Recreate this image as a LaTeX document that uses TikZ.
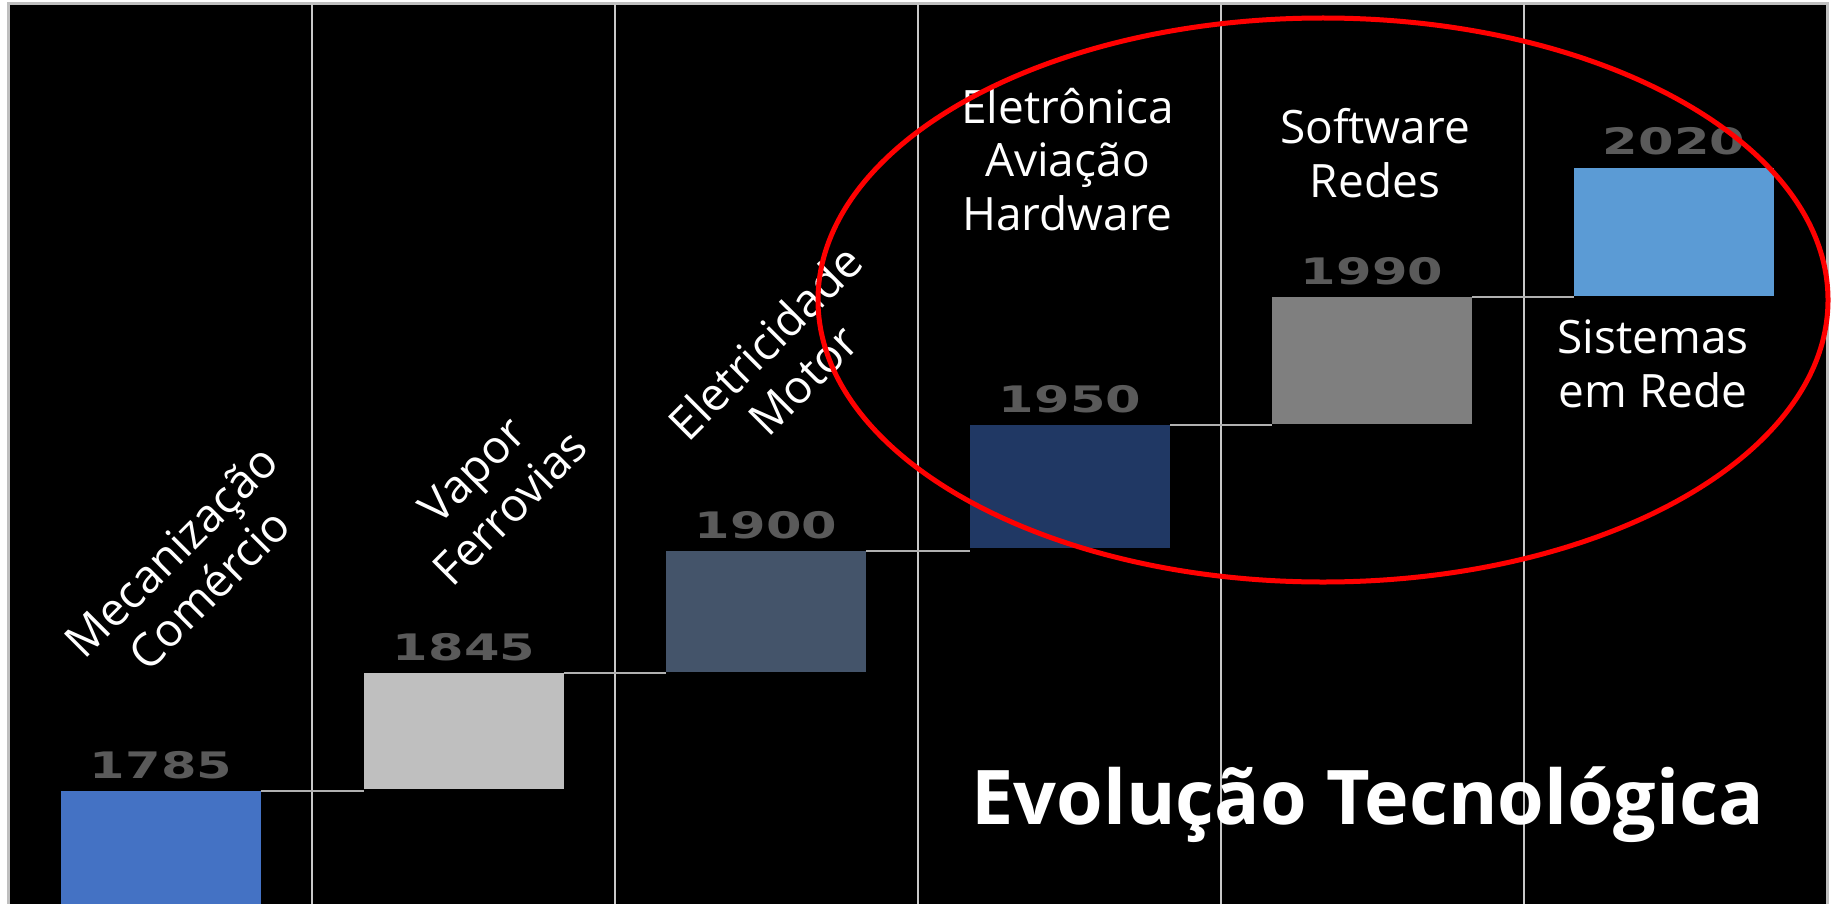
\documentclass[tikz,border=0pt]{standalone}
\usepackage{fontspec}
\setmainfont{Open Sans}
\newfontfamily\yearfont{DejaVu Sans}
\usetikzlibrary{shapes.geometric}
\definecolor{framegray}{HTML}{BFBFBF}
\definecolor{gridgray}{HTML}{C8C8C8}
\definecolor{conngray}{HTML}{B0B0B0}
\definecolor{yeargray}{HTML}{5A5A5A}
\definecolor{barA}{HTML}{4472C4}
\definecolor{barB}{HTML}{BFBFBF}
\definecolor{barC}{HTML}{44546A}
\definecolor{barD}{HTML}{203864}
\definecolor{barE}{HTML}{7F7F7F}
\definecolor{barF}{HTML}{5B9BD5}
\definecolor{hlred}{HTML}{FF0000}
\tikzset{
  barbox/.style={rectangle, inner sep=0pt, outer sep=0pt, minimum width=100pt, anchor=north west},
  yearlbl/.style={inner sep=0pt, anchor=base, text=yeargray, xscale=1.4,
    font=\yearfont\bfseries\fontsize{18.25pt}{22pt}\selectfont},
  lbl/.style={inner sep=0pt, text=white, align=center,
    font=\fontsize{23pt}{26.75pt}\selectfont},
  titlelbl/.style={inner sep=0pt, text=white, anchor=base west,
    font=\bfseries\fontsize{37.7pt}{44pt}\selectfont},
  gridline/.style={draw=gridgray, line width=1.2pt},
  conn/.style={draw=conngray, line width=0.8pt},
  highlight/.style={ellipse, draw=hlred, line width=2.5pt, inner sep=0pt,
    minimum width=505pt, minimum height=282pt}
}
\begin{document}
\begin{tikzpicture}[x=0.5pt, y=-0.5pt]
\useasboundingbox (0,0) rectangle (1841,904);
\fill[white] (0,0) rectangle (1841,904);
\fill[black] (8,4) rectangle (1827,904);
\draw[framegray, line width=1.5pt] (8,904) -- (8,4) -- (1827,4) -- (1827,904);
\foreach \gx in {312,615,918,1221,1524} \draw[gridline] (\gx,4) -- (\gx,904);
% bars
\node[barbox, fill=barA, minimum height=56.5pt] (b1) at (61,791) {};
\node[barbox, fill=barB, minimum height=58pt] (b2) at (364,673) {};
\node[barbox, fill=barC, minimum height=60.5pt] (b3) at (666,551) {};
\node[barbox, fill=barD, minimum height=61.5pt] (b4) at (970,425) {};
\node[barbox, fill=barE, minimum height=63.5pt] (b5) at (1272,297) {};
\node[barbox, fill=barF, minimum height=64pt] (b6) at (1574,168) {};
% connectors
\draw[conn] (b1.north east) -- (b1.north east -| b2.west);
\draw[conn] (b2.north east) -- (b2.north east -| b3.west);
\draw[conn] (b3.north east) -- (b3.north east -| b4.west);
\draw[conn] (b4.north east) -- (b4.north east -| b5.west);
\draw[conn] (b5.north east) -- (b5.north east -| b6.west);
% years
\node[yearlbl] (y1) at ([yshift=6.5pt]b1.north) {1785};
\node[yearlbl] (y2) at ([yshift=6.5pt]b2.north) {1845};
\node[yearlbl] (y3) at ([yshift=6.5pt]b3.north) {1900};
\node[yearlbl] (y4) at ([yshift=6.5pt]b4.north) {1950};
\node[yearlbl] (y5) at ([yshift=6.5pt]b5.north) {1990};
\node[yearlbl] (y6) at ([yshift=6.5pt]b6.north) {2020};
% labels
\node[lbl, rotate=45] (t1) at (190,570) {Mecanização\\Comércio};
\node[lbl, rotate=45] (t2) at (491,489) {Vapor\\Ferrovias};
\node[lbl, rotate=45] (t3) at (784,361) {Eletricidade\\Motor};
\node[lbl, anchor=base] (t4) at (1067.5,230) {Eletrônica\\Aviação\\Hardware};
\node[lbl, anchor=base] (t5) at (1375,197) {Software\\Redes};
\node[lbl, anchor=base] (t6) at (1653,407) {Sistemas\\em Rede};
\node[titlelbl] (tt) at (971,824) {Evolução Tecnológica};
% highlight
\node[highlight] (hl) at (1323,300) {};
\end{tikzpicture}
\end{document}
